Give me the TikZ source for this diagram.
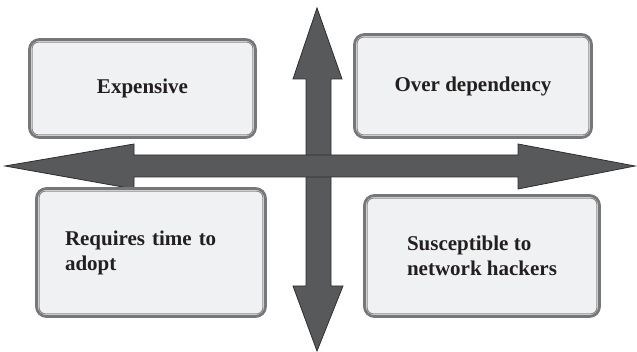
\documentclass[tikz,border=0pt]{standalone}
\usepackage{fontspec}
\setmainfont{Liberation Serif}
\usepackage{xcolor}
\usepackage{tikz}
\usetikzlibrary{calc}
\definecolor{arrgray}{HTML}{58595B}
\definecolor{arredge}{HTML}{2E2E2F}
\definecolor{boxedge}{HTML}{77777A}
\definecolor{boxfill}{HTML}{F0F1F3}
\definecolor{txt}{HTML}{231F20}
\tikzset{
  cbox/.style={draw=boxedge,line width=1.4pt,fill=boxfill,rounded corners=5pt,
    font=\fontsize{10.5}{12.5}\selectfont\bfseries,text=txt,inner sep=0pt},
  cline/.style={draw=boxedge!85,line width=0.5pt,rounded corners=3.2pt},
  arrbar/.style={fill=arrgray,draw=arredge,line width=0.4pt,line join=miter},
}

\begin{document}
\begin{tikzpicture}[x=0.5pt,y=-0.5pt]
\useasboundingbox (0,0) rectangle (637,352);
% vertical double arrow
\draw[arrbar] (317,8) -- (342,79) -- (331,79) -- (331,286) -- (343,286) -- (317,351)
  -- (293,286) -- (306,286) -- (306,79) -- (293,79) -- cycle;
% horizontal double arrow
\draw[arrbar] (5,166) -- (134,144) -- (134,155) -- (518,155) -- (518,144) -- (635,166)
  -- (518,189) -- (518,177) -- (134,177) -- (134,189) -- cycle;
% quadrant boxes
\node[cbox,minimum width=113pt,minimum height=49pt,align=center] (b1) at (142.5,88.5) {Expensive};
\node[cbox,minimum width=118.5pt,minimum height=51.5pt,align=center] (b2) at (473,86) {Over dependency};
\node[cbox,minimum width=114.5pt,minimum height=64pt,text width=86pt,align=left] (b3) at (151,252.5) {Requires time to\\adopt};
\node[cbox,minimum width=117.5pt,minimum height=60.5pt,align=left] (b4) at (482,256) {Susceptible to\\network hackers};
\foreach \bx in {b1,b2,b3,b4}
  \draw[cline] ([shift={(2pt,-2pt)}]\bx.north west) rectangle ([shift={(-2pt,2pt)}]\bx.south east);
\end{tikzpicture}
\end{document}
